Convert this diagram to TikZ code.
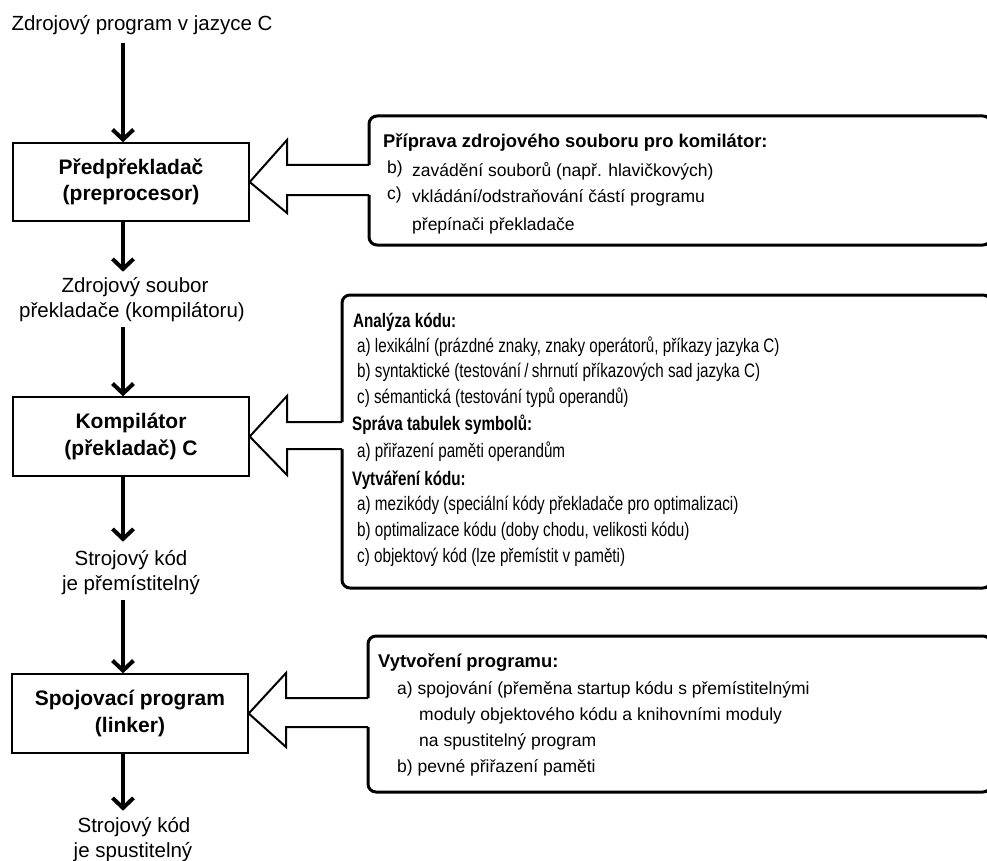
\documentclass[tikz,border=0pt]{standalone}
\usepackage{fontspec}
\setmainfont{Liberation Sans}
\newfontfamily\narrowfont[FakeStretch=0.78]{Liberation Sans}
\usetikzlibrary{arrows.meta}
\newcommand\notehead[1]{{\fontsize{18.4}{21}\selectfont\bfseries #1}}
\begin{document}
\begin{tikzpicture}[x=1pt,y=-1pt,
  stage/.style={draw=black,line width=1.4pt,minimum width=236pt,inner sep=0pt,
    align=center,font=\fontsize{21}{26.5}\selectfont\bfseries},
  flowlabel/.style={inner sep=0pt,anchor=base,font=\fontsize{20.5}{25}\selectfont},
  flow/.style={line width=4pt,-{Straight Barb[length=10pt,width=21pt]}},
  panel/.style={line width=3pt,rounded corners=8pt},
  feed/.style={line width=2pt,line join=miter},
  notetext/.style={inner sep=0pt,anchor=base west,font=\fontsize{17.5}{21}\selectfont},
  narrowtext/.style={inner sep=0pt,anchor=base west,font=\narrowfont\fontsize{19.5}{21}\selectfont}
]
\useasboundingbox (0,0) rectangle (987,861);
\clip (0,0) rectangle (987,861);

% x position of the main flow arrows
\coordinate (ax) at (123,0);

% processing stages
\node[stage,minimum height=78pt] (pre) at (131,182) {Předpřekladač\\(preprocesor)};
\node[stage,minimum height=79pt] (comp) at (131,436.5) {Kompilátor\\(překladač) C};
\node[stage,minimum height=79pt] (link) at (130,713.5) {Spojovací program\\(linker)};

% intermediate products
\node[flowlabel] (src) at (142,31) {Zdrojový program v jazyce C};
\node[flowlabel] (ppa) at (135,292) {Zdrojový soubor};
\node[flowlabel] (ppb) at (132,317) {překladače (kompilátoru)};
\node[flowlabel] (rela) at (131,565) {Strojový kód};
\node[flowlabel] (relb) at (131,590) {je přemístitelný};
\node[flowlabel] (exea) at (134,832) {Strojový kód};
\node[flowlabel] (exeb) at (133,857) {je spustitelný};

% main flow
\draw[flow,shorten <=8pt] (src.south -| ax) -- (pre.north -| ax);
\draw[flow,shorten >=5pt] (pre.south -| ax) -- (ppa.north -| ax);
\draw[flow,shorten <=6pt] (ppb.south -| ax) -- (comp.north -| ax);
\draw[flow,shorten >=8pt] (comp.south -| ax) -- (rela.north -| ax);
\draw[flow,shorten <=6pt] (relb.south -| ax) -- (link.north -| ax);
\draw[flow,shorten >=6pt] (link.south -| ax) -- (exea.north -| ax);

% note panel for the preprocessor
\draw[panel] (369,165) -- (369,116) -- (991,116) -- (991,245) -- (369,245) -- (369,195);
\coordinate (t1) at (pre.east);
\draw[feed] (369,165) -- (287,165) -- (287,140) -- (t1) -- (287,213) -- (287,195) -- (369,195);
\foreach \px/\py/\t [count=\i] in {
  383/148/{\notehead{Příprava zdrojového souboru pro komilátor:}},
  387/174/{b)}, 412/177/{zavádění souborů (např. hlavičkových)},
  387/200/{c)}, 412/203/{vkládání/odstraňování částí programu},
  412/230/{přepínači překladače}}
  \node[notetext] (pa\i) at (\px,\py) {\t};

% note panel for the compiler
\draw[panel] (342,422) -- (342,295) -- (991,295) -- (991,588) -- (342,588) -- (342,449);
\coordinate (t2) at (comp.east);
\draw[feed] (342,422) -- (287,422) -- (287,396) -- (t2) -- (287,475) -- (287,449) -- (342,449);
\foreach \px/\py/\t [count=\i] in {
  353/327/{\textbf{Analýza kódu:}},
  357/352/{a) lexikální (prázdné znaky, znaky operátorů, příkazy jazyka C)},
  357/377/{b) syntaktické (testování\,/\,shrnutí příkazových sad jazyka C)},
  357/403/{c) sémantická (testování typů operandů)},
  352/430/{\textbf{Správa tabulek symbolů:}},
  357/457/{a) přiřazení paměti operandům},
  352/485/{\textbf{Vytváření kódu:}},
  357/510/{a) mezikódy (speciální kódy překladače pro optimalizaci)},
  357/536/{b) optimalizace kódu (doby chodu, velikosti kódu)},
  357/562/{c) objektový kód (lze přemístit v paměti)}}
  \node[narrowtext] (pb\i) at (\px,\py) {\t};

% note panel for the linker
\draw[panel] (368,698) -- (368,636) -- (991,636) -- (991,792) -- (368,792) -- (368,727);
\coordinate (t3) at (link.east);
\draw[feed] (368,698) -- (286,698) -- (286,673) -- (t3) -- (286,747) -- (286,727) -- (368,727);
\foreach \px/\py/\t [count=\i] in {
  378/667/{\notehead{Vytvoření programu:}},
  397/694/{a) spojování (přeměna startup kódu s přemístitelnými},
  419/720/{moduly objektového kódu a knihovními moduly},
  419/746/{na spustitelný program},
  397/772/{b) pevné přiřazení paměti}}
  \node[notetext] (pc\i) at (\px,\py) {\t};
\end{tikzpicture}
\end{document}
